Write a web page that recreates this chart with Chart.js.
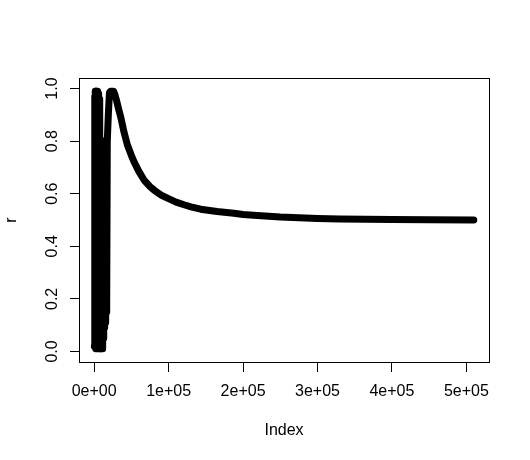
<!DOCTYPE html>
<html>
<head>
<meta charset="utf-8">
<script src="https://cdn.jsdelivr.net/npm/chart.js@4.4.1/dist/chart.umd.min.js"></script>
<style>
  body { margin: 0; background: #fff; }
</style>
</head>
<body>
<canvas id="plot" width="530" height="460"></canvas>
<script>
// values (Index, r)
const index = [
  200, 600, 1000, 1400, 1800, 2200, 2600, 3000, 3400, 3800,
  4200, 4600, 5000, 5400, 5800, 6200, 6600, 7000, 7400, 7800,
  8200, 8600, 9000, 9400, 9800, 10200, 10600, 11000, 11400, 11800,
  12200, 12600, 13000, 13400, 13800, 14200, 14600, 15000, 15400, 15800,
  16200, 16600, 17000, 17600, 19000, 20500, 22000, 24000, 26000, 27500,
  30000, 33000, 35800, 40000, 44800, 50000, 53600, 60000, 67000, 75000,
  80400, 90000, 98400, 110000, 120600, 130000, 143000, 165000, 187700, 200000,
  219000, 250000, 300000, 330000, 400000, 450000, 510000
];
const r = [
  0.02, 0.97, 0.05, 0.99, 0.01, 0.95, 0.08, 0.99, 0.02, 0.93,
  0.01, 0.99, 0.04, 0.97, 0.01, 0.98, 0.03, 0.96, 0.01, 0.85,
  0.02, 0.80, 0.01, 0.78, 0.02, 0.80, 0.01, 0.75, 0.03, 0.79,
  0.05, 0.80, 0.07, 0.78, 0.09, 0.80, 0.11, 0.79, 0.13, 0.80,
  0.15, 0.80, 0.17, 0.80, 0.90, 0.985, 0.99, 0.99, 0.99, 0.98,
  0.955, 0.92, 0.89, 0.835, 0.784, 0.745, 0.721, 0.685, 0.652, 0.627,
  0.614, 0.595, 0.583, 0.568, 0.558, 0.550, 0.541, 0.532, 0.526, 0.521,
  0.517, 0.511, 0.506, 0.504, 0.502, 0.501, 0.500
];

const xTicks = [0, 100000, 200000, 300000, 400000, 500000];
const xTickLabels = ['0e+00', '1e+05', '2e+05', '3e+05', '4e+05', '5e+05'];
const yTicks = [0, 0.2, 0.4, 0.6, 0.8, 1.0];
const yTickLabels = ['0.0', '0.2', '0.4', '0.6', '0.8', '1.0'];

const FONT = 'Liberation Sans, Arial, sans-serif';

// box around the plot + rotated y tick labels (R style)
const rBox = {
  id: 'rBox',
  afterDraw(chart) {
    const ctx = chart.ctx;
    const a = chart.chartArea;
    ctx.save();
    ctx.strokeStyle = '#000';
    ctx.lineWidth = 1;
    ctx.strokeRect(Math.round(a.left) + 0.5, Math.round(a.top) + 0.5,
      Math.round(a.right - a.left), Math.round(a.bottom - a.top));

    const ys = chart.scales.y;
    ctx.fillStyle = '#000';
    ctx.font = '16px ' + FONT;
    ctx.textAlign = 'center';
    ctx.textBaseline = 'alphabetic';
    yTicks.forEach((v, i) => {
      ctx.save();
      ctx.translate(57, ys.getPixelForValue(v));
      ctx.rotate(-Math.PI / 2);
      ctx.fillText(yTickLabels[i], 0, 0);
      ctx.restore();
    });
    ctx.restore();
  }
};

new Chart(document.getElementById('plot'), {
  type: 'scatter',
  data: {
    datasets: [{
      data: index.map((v, i) => ({ x: v, y: r[i] })),
      showLine: true,
      borderColor: '#000',
      backgroundColor: '#000',
      borderWidth: 7,
      borderJoinStyle: 'round',
      borderCapStyle: 'round',
      pointRadius: 0,
      tension: 0
    }]
  },
  options: {
    responsive: false,
    animation: false,
    layout: { padding: { left: 0, right: 41, top: 78, bottom: 0 } },
    plugins: { legend: { display: false }, tooltip: { enabled: false } },
    scales: {
      x: {
        type: 'linear',
        min: -20400,
        max: 530400,
        afterBuildTicks: s => { s.ticks = xTicks.map(v => ({ value: v })); },
        afterFit: s => { s.height = 98; },
        grid: { drawOnChartArea: false, drawTicks: true, tickLength: 10, color: '#000' },
        border: { display: false },
        ticks: {
          padding: 10,
          color: '#000',
          font: { family: FONT, size: 16 },
          maxRotation: 0,
          callback: (v) => xTickLabels[xTicks.indexOf(v)]
        },
        title: {
          display: true,
          text: 'Index',
          color: '#000',
          font: { family: FONT, size: 16 },
          padding: { top: 0, bottom: 20 }
        }
      },
      y: {
        type: 'linear',
        min: -0.04,
        max: 1.04,
        afterBuildTicks: s => { s.ticks = yTicks.map(v => ({ value: v })); },
        afterFit: s => { s.width = 79; },
        grid: { drawOnChartArea: false, drawTicks: true, tickLength: 9, color: '#000' },
        border: { display: false },
        ticks: {
          color: 'rgba(0,0,0,0)',
          font: { family: FONT, size: 16 },
          callback: (v) => yTickLabels[yTicks.indexOf(v)]
        },
        title: {
          display: true,
          text: 'r',
          color: '#000',
          font: { family: FONT, size: 16 },
          padding: { top: 2, bottom: 0 }
        }
      }
    }
  },
  plugins: [rBox]
});
</script>
</body>
</html>
